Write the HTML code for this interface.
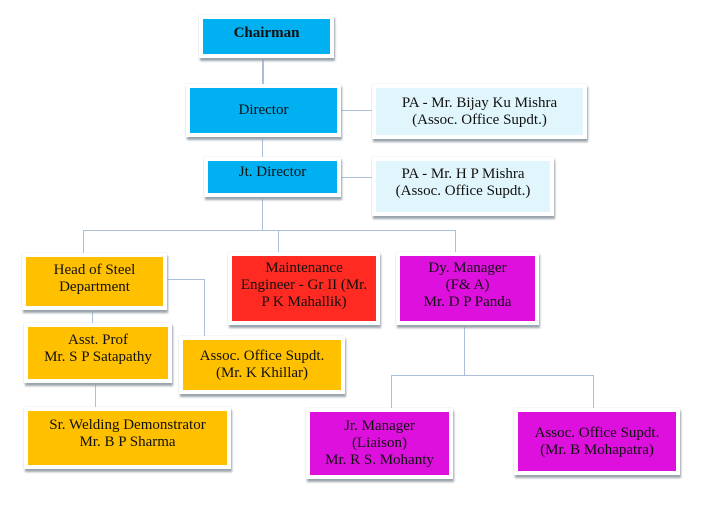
<!DOCTYPE html><html><head><style>
body{margin:0;width:718px;height:517px;background:#fff;position:relative;overflow:hidden;font-family:"Liberation Serif",serif;font-size:15px;color:#111}
.b{position:absolute;box-sizing:border-box;border:4px solid #fff;box-shadow:1px 3px 2px #9aa4ad,0 0 1px #ccc;text-align:center;line-height:17px;display:flex;flex-direction:column;justify-content:center;white-space:nowrap}
.l{position:absolute;background:#a9c0d8}
.bl{background:#00b0f0}.lb{background:#e0f5fc}.or{background:#ffc000}.rd{background:#ff2a22}.mg{background:#dd10dd}
</style></head><body>
<div class="l" style="left:262px;top:57px;width:2px;height:30px"></div>
<div class="l" style="left:262px;top:135px;width:1px;height:24px"></div>
<div class="l" style="left:340px;top:110px;width:32px;height:1px"></div>
<div class="l" style="left:340px;top:177px;width:32px;height:1px"></div>
<div class="l" style="left:262px;top:196px;width:1px;height:35px"></div>
<div class="l" style="left:83px;top:230px;width:373px;height:1px"></div>
<div class="l" style="left:83px;top:230px;width:1px;height:24px"></div>
<div class="l" style="left:278px;top:230px;width:1px;height:24px"></div>
<div class="l" style="left:455px;top:230px;width:1px;height:24px"></div>
<div class="l" style="left:166px;top:279px;width:39px;height:1px"></div>
<div class="l" style="left:204px;top:279px;width:1px;height:58px"></div>
<div class="l" style="left:92px;top:308px;width:1px;height:20px"></div>
<div class="l" style="left:95px;top:382px;width:1px;height:28px"></div>
<div class="l" style="left:464px;top:322px;width:1px;height:54px"></div>
<div class="l" style="left:391px;top:375px;width:203px;height:1px"></div>
<div class="l" style="left:391px;top:375px;width:1px;height:36px"></div>
<div class="l" style="left:593px;top:375px;width:1px;height:36px"></div>

<div class="b bl" style="left:199px;top:15px;width:135px;height:43px;justify-content:flex-start;padding-top:6px"><b>Chairman</b></div>
<div class="b bl" style="left:186px;top:84px;width:155px;height:53px">Director</div>
<div class="b lb" style="left:372px;top:84px;width:215px;height:55px">PA - Mr. Bijay Ku Mishra<br>(Assoc. Office Supdt.)</div>
<div class="b bl" style="left:204px;top:157px;width:137px;height:40px;justify-content:flex-start;padding-top:3px">Jt. Director</div>
<div class="b lb" style="left:372px;top:157px;width:182px;height:59px;justify-content:flex-start;padding-top:5px">PA - Mr. H P Mishra<br>(Assoc. Office Supdt.)</div>
<div class="b or" style="left:22px;top:253px;width:145px;height:57px;justify-content:flex-start;padding-top:5px">Head of Steel<br>Department</div>
<div class="b rd" style="left:228px;top:252px;width:152px;height:73px;justify-content:flex-start;padding-top:4px">Maintenance<br>Engineer - Gr II (Mr.<br>P K Mahallik)</div>
<div class="b mg" style="left:396px;top:252px;width:143px;height:73px;justify-content:flex-start;padding-top:4px">Dy. Manager<br>(F&amp; A)<br>Mr. D P Panda</div>
<div class="b or" style="left:24px;top:323px;width:148px;height:60px;justify-content:flex-start;padding-top:5px">Asst. Prof<br>Mr. S P Satapathy</div>
<div class="b or" style="left:179px;top:336px;width:166px;height:58px">Assoc. Office Supdt.<br>(Mr. K Khillar)</div>
<div class="b or" style="left:24px;top:407px;width:207px;height:62px;justify-content:flex-start;padding-top:6px">Sr. Welding Demonstrator<br>Mr. B P Sharma</div>
<div class="b mg" style="left:306px;top:408px;width:147px;height:71px">Jr. Manager<br>(Liaison)<br>Mr. R S. Mohanty</div>
<div class="b mg" style="left:514px;top:408px;width:166px;height:67px">Assoc. Office Supdt.<br>(Mr. B Mohapatra)</div>
</body></html>
